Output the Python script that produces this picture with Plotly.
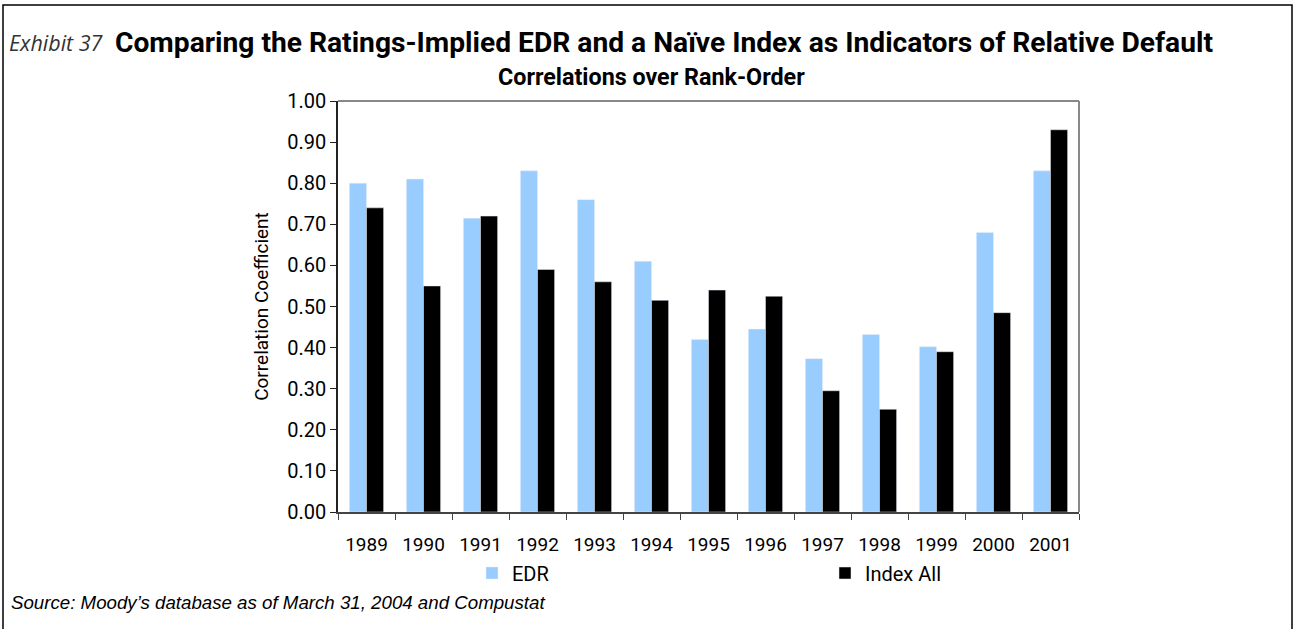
import plotly.graph_objects as go

years = ["1989", "1990", "1991", "1992", "1993", "1994", "1995",
         "1996", "1997", "1998", "1999", "2000", "2001"]
edr = [0.80, 0.81, 0.715, 0.83, 0.76, 0.61, 0.42, 0.445, 0.373, 0.432, 0.402, 0.68, 0.83]
index_all = [0.74, 0.55, 0.72, 0.59, 0.56, 0.515, 0.54, 0.525, 0.295, 0.25, 0.39, 0.485, 0.93]
y_ticks = [0.0, 0.1, 0.2, 0.3, 0.4, 0.5, 0.6, 0.7, 0.8, 0.9, 1.0]

FONT = "Roboto, Liberation Sans, sans-serif"

# plot area in pixels (for placing the loose texts)
L, R, T, B = 338, 1079, 101, 512
W, H = R - L, B - T

def px_x(x):
    return (x - L) / W

def px_y(y):
    return (B - y) / H

fig = go.Figure()
fig.add_trace(go.Bar(x=years, y=edr, name="EDR", marker_color="#99ccff", legend="legend"))
fig.add_trace(go.Bar(x=years, y=index_all, name="Index All", marker_color="#000000", legend="legend2"))

leg = dict(orientation="h", xanchor="left", yanchor="middle",
           font=dict(family=FONT, size=20, color="#000000"), bgcolor="rgba(0,0,0,0)")

fig.update_layout(
    width=1294, height=629,
    margin=dict(l=L, r=1294 - R, t=T, b=629 - B, autoexpand=False),
    paper_bgcolor="#ffffff",
    plot_bgcolor="#ffffff",
    barmode="group",
    bargap=0.4,
    bargroupgap=0,
    font=dict(family=FONT, size=19, color="#000000"),
    legend=dict(leg, x=px_x(472), y=px_y(573)),
    legend2=dict(leg, x=px_x(825), y=px_y(573)),
    showlegend=True,
)

fig.update_xaxes(
    type="category",
    showline=True, linecolor="#444444", linewidth=1.5,
    ticks="outside", tickson="boundaries", ticklen=6, tickcolor="#444444",
    showgrid=False, ticklabelstandoff=14,
    tickfont=dict(family=FONT, size=19),
)
fig.update_yaxes(
    range=[0, 1.0],
    tickvals=y_ticks, tickformat=".2f",
    showline=True, linecolor="#222222", linewidth=1.5,
    ticks="outside", ticklen=6, tickcolor="#222222",
    showgrid=False, zeroline=False,
    tickfont=dict(family=FONT, size=20),
    title=dict(text="Correlation Coefficient", font=dict(family=FONT, size=19), standoff=14),
)

# plot area border (top/right grey) and page frame
fig.add_shape(type="line", xref="paper", yref="paper", x0=0, x1=1, y0=1, y1=1,
              line=dict(color="#888888", width=2))
fig.add_shape(type="line", xref="paper", yref="paper", x0=1, x1=1, y0=0, y1=1,
              line=dict(color="#888888", width=2))
fig.add_shape(type="rect", xref="paper", yref="paper",
              x0=px_x(3), x1=px_x(1292), y0=px_y(640), y1=px_y(5),
              line=dict(color="#000000", width=1.5), fillcolor="rgba(0,0,0,0)")

# titles
fig.add_annotation(
    text="<i>Exhibit 37</i>", xref="paper", yref="paper",
    x=px_x(7), y=px_y(43), xanchor="left", yanchor="middle",
    showarrow=False, font=dict(family="Open Sans, sans-serif", size=21.5, color="#333333"),
)
fig.add_annotation(
    text="<b>Comparing the Ratings-Implied EDR and a Naïve Index as Indicators of Relative Default</b>",
    xref="paper", yref="paper",
    x=px_x(113), y=px_y(42), xanchor="left", yanchor="middle",
    showarrow=False, font=dict(family=FONT, size=28.2, color="#000000"),
)
fig.add_annotation(
    text="<b>Correlations over Rank-Order</b>", xref="paper", yref="paper",
    x=px_x(651), y=px_y(77), xanchor="center", yanchor="middle",
    showarrow=False, font=dict(family=FONT, size=23.3, color="#000000"),
)
fig.add_annotation(
    text="<i>Source: Moody’s database as of March 31, 2004 and Compustat</i>",
    xref="paper", yref="paper",
    x=px_x(9), y=px_y(602), xanchor="left", yanchor="middle",
    showarrow=False, font=dict(family="Liberation Sans, Arial, sans-serif", size=18.7, color="#000000"),
)

# page has a default body margin; drop it so the figure sits at the window corner
fig.write_html("out.html", config={"displayModeBar": False},
               post_script="document.body.style.margin='0';")
